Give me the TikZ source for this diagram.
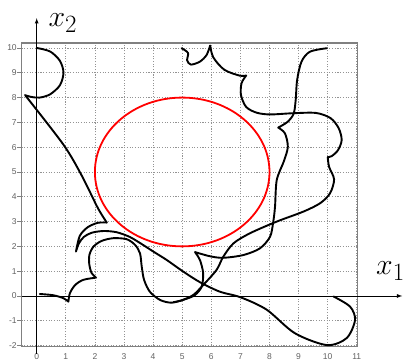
\documentclass[tikz,border=0pt]{standalone}
\usepackage{fontspec}
\newfontfamily\tickfont{Liberation Sans}
\usepackage{tikz}
\usetikzlibrary{calc}
\tikzset{
  curve/.style={draw, line width=1.9pt, line join=round, line cap=round},
  gridline/.style={draw, gray!85, line width=0.7pt, dash pattern=on 1.1pt off 1.6pt},
  ticklabel/.style={inner sep=0pt, text=black!62, font=\tickfont\fontsize{8.5}{8.5}\selectfont},
  axislabel/.style={inner sep=0pt, anchor=base west}
}
\newcommand{\biglab}[1]{\scalebox{1.2}{\Huge $#1$}}

\begin{document}
\begin{tikzpicture}[x=29.1pt, y=24.8pt, > = latex]
  \useasboundingbox (-1.261,-2.581) rectangle (12.588,11.935);

        \foreach \i in {0,...,11} \path[gridline] (\i,-2) -- (\i,10.2);
        \foreach \j in {-2,...,10} \path[gridline] (-0.52,\j) -- (11,\j);
        \path[draw, gray, line width=1.3pt] (-0.52,-2.03) rectangle (11.02,10.2);
        \foreach \j in {-2,...,10}{
          \path[draw, gray, line width=0.8pt] (-0.66,\j) -- (-0.52,\j);
          \node[ticklabel, anchor=east] (yt\j) at (-0.68,\j) {\j};
        }
        \foreach \i in {0,...,11} \node[ticklabel, anchor=north] (xt\i) at (\i,-2.3) {\i};

        \coordinate (x1from) at (-0.52,0);
        \coordinate (x1to) at (12.56,0);
        \coordinate (x2from) at (0,-2.32);
        \coordinate (x2to) at (0,11.2);
        \path[draw, line width=0.8pt, ->] (x1from) -- (x1to);
        \path[draw, line width=0.8pt, ->] (x2from) -- (x2to);
        \node[axislabel] (x1lab) at (11.66,0.85) {\biglab{x_1}};
        \node[axislabel] (x2lab) at (0.40,10.86) {\biglab{x_2}};

        \path[draw, red, line width=1.8pt] (5,5) circle [radius=3];

        \path[curve] plot[smooth] coordinates {(0,10) (0.46,9.86) (0.8,9.48) (0.92,9.0) (0.8,8.5) (0.46,8.13) (0.1,8.0) (-0.2,8.03) (-0.4,8.1)}
          plot[smooth] coordinates {(-0.4,8.1) (0.92,6.1) (1.55,4.85) (2.1,3.55) (2.41,2.96)}
          plot[smooth] coordinates {(2.41,2.96) (2.1,2.95) (1.75,2.77) (1.48,2.42) (1.35,1.79)}
          plot[smooth] coordinates {(1.35,1.79) (1.45,2.12) (1.62,2.38) (1.89,2.55) (2.3,2.62) (2.75,2.57) (3.2,2.38) (3.6,2.1) (4.01,1.79) (4.47,1.45) (5.04,0.98) (5.62,0.55) (6.3,0.17) (7.0,-0.05) (7.9,-0.55) (8.87,-1.5) (9.97,-1.98) (10.65,-1.7) (10.94,-0.97) (10.77,-0.43) (10.2,-0.02)};

        \path[curve] plot[smooth] coordinates {(0.11,0.08) (0.57,0.03) (0.92,-0.09) (1.09,-0.23)}
          plot[smooth] coordinates {(1.09,-0.23) (1.14,0.11) (1.32,0.44) (1.6,0.65) (2.04,0.74)}
          plot[smooth] coordinates {(2.04,0.74) (1.89,0.92) (1.81,1.25) (1.81,1.65) (1.95,1.99) (2.23,2.22) (2.63,2.33) (3.09,2.29) (3.38,2.06) (3.55,1.72) (3.61,1.18) (3.69,0.65) (3.89,0.17) (4.24,-0.16) (4.64,-0.27) (5.1,-0.13) (5.44,0.04) (5.67,0.38) (5.72,0.92) (5.61,1.45) (5.44,1.77)}
          plot[smooth] coordinates {(5.44,1.77) (5.96,1.6) (6.41,1.54) (7.1,1.65) (7.67,1.92) (8.02,2.39) (8.13,3.0) (8.19,3.6) (8.25,4.68) (8.5,5.45) (8.63,6.02) (8.53,6.56) (8.3,6.79)}
          plot[smooth] coordinates {(8.3,6.79) (8.62,7.02) (8.83,7.35) (8.9,7.9) (8.95,8.71) (9.1,9.45) (9.39,9.85) (9.97,9.99)};

        \path[curve] plot[smooth] coordinates {(4.98,9.99) (5.2,9.8) (5.17,9.5) (5.3,9.33) (5.61,9.45) (5.84,9.72) (5.96,10.1)}
          plot[smooth] coordinates {(5.96,10.1) (6.07,9.62) (6.45,9.12) (6.99,8.88) (7.2,8.89)}
          plot[smooth] coordinates {(7.2,8.89) (7.04,8.58) (7.02,8.1) (7.2,7.62) (7.56,7.39) (8.02,7.32) (8.82,7.37) (9.6,7.38) (10.1,7.17) (10.38,6.76) (10.48,6.29) (10.36,5.89) (10.14,5.64) (10.0,5.6)}
          plot[smooth] coordinates {(10.0,5.6) (10.05,5.2) (10.22,4.7) (10.08,4.14) (9.74,3.74) (9.16,3.4) (8.25,3.0) (7.33,2.53) (6.76,2.12) (6.41,1.58) (6.18,1.05) (5.72,0.44) (5.38,0.04) (5.0,-0.17) (4.7,-0.25)};
\end{tikzpicture}
\end{document}
